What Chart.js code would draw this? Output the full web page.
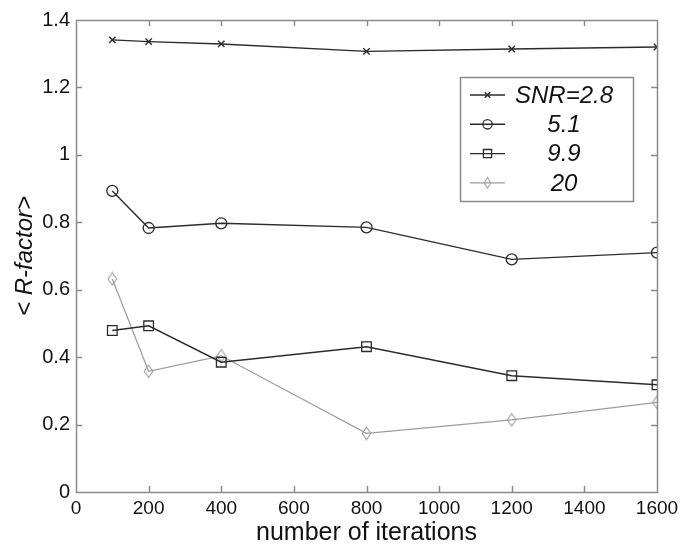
<!DOCTYPE html>
<html>
<head>
<meta charset="utf-8">
<script src="https://cdn.jsdelivr.net/npm/chart.js@4/dist/chart.umd.min.js"></script>
<style>
  html, body { margin: 0; padding: 0; background: #fff; }
  #wrap { width: 680px; height: 547px; }
</style>
</head>
<body>
<div id="wrap"><canvas id="chart" width="680" height="547"></canvas></div>
<script>
// Mean R-factor versus number of iterations, one series per SNR level
const iterations = [100, 200, 400, 800, 1200, 1600];
const seriesLabels = ['SNR=2.8', '5.1', '9.9', '20'];
const rSnr28 = [1.341, 1.336, 1.329, 1.307, 1.314, 1.320];
const rSnr51 = [0.893, 0.783, 0.797, 0.785, 0.690, 0.710];
const rSnr99 = [0.479, 0.493, 0.385, 0.431, 0.345, 0.318];
const rSnr20 = [0.632, 0.358, 0.404, 0.174, 0.214, 0.266];

const xTicks = [0, 200, 400, 600, 800, 1000, 1200, 1400, 1600];
const xTickLabels = ['0', '200', '400', '600', '800', '1000', '1200', '1400', '1600'];
const yTicks = [0, 0.2, 0.4, 0.6, 0.8, 1.0, 1.2, 1.4];
const yTickLabels = ['0', '0.2', '0.4', '0.6', '0.8', '1', '1.2', '1.4'];

const DARK = '#2b2b2b';
const LIGHT = '#9c9c9c';
const FRAME = '#8a8a8a';
const FONT = '"Liberation Sans", Arial, Helvetica, sans-serif';

// Tall, hollow diamond marker
function diamondMarker(color, w, h) {
  const c = document.createElement('canvas');
  c.width = w; c.height = h;
  const g = c.getContext('2d');
  g.strokeStyle = color;
  g.lineWidth = 1.1;
  g.beginPath();
  g.moveTo(w / 2, 1.2);
  g.lineTo(w - 1.2, h / 2);
  g.lineTo(w / 2, h - 1.2);
  g.lineTo(1.2, h / 2);
  g.closePath();
  g.stroke();
  return c;
}

function toPoints(ys) {
  return iterations.map((x, i) => ({ x: x, y: ys[i] }));
}

const datasets = [
  { label: seriesLabels[0], data: toPoints(rSnr28), borderColor: DARK, borderWidth: 1.4,
    pointStyle: 'crossRot', pointRadius: 4.5, pointBorderWidth: 1.4, pointBorderColor: DARK },
  { label: seriesLabels[1], data: toPoints(rSnr51), borderColor: DARK, borderWidth: 1.4,
    pointStyle: 'circle', pointRadius: 5.5, pointBorderWidth: 1.3, pointBorderColor: DARK },
  { label: seriesLabels[2], data: toPoints(rSnr99), borderColor: DARK, borderWidth: 1.4,
    pointStyle: 'rect', pointRadius: 6.8, pointBorderWidth: 1.3, pointBorderColor: DARK },
  { label: seriesLabels[3], data: toPoints(rSnr20), borderColor: LIGHT, borderWidth: 1.2,
    pointStyle: diamondMarker(LIGHT, 11, 15), pointRadius: 6, pointBorderWidth: 1.1, pointBorderColor: LIGHT,
    legendPointStyle: diamondMarker(LIGHT, 9, 13) }
].map(d => Object.assign(d, {
  showLine: true,
  fill: false,
  tension: 0,
  pointBackgroundColor: 'rgba(0,0,0,0)',
  pointHoverRadius: d.pointRadius
}));

// Box frame with inward tick marks on all four sides
const framePlugin = {
  id: 'frameTicks',
  afterDatasetsDraw(chart, args, opts) {
    const { ctx, chartArea: a, scales } = chart;
    const len = opts.tickLength;
    ctx.save();
    ctx.strokeStyle = opts.color;
    ctx.lineWidth = opts.lineWidth;
    ctx.beginPath();
    scales.x.ticks.forEach(t => {
      const px = Math.round(scales.x.getPixelForValue(t.value)) + 0.5;
      if (px <= a.left + 1 || px >= a.right - 1) return;
      ctx.moveTo(px, a.bottom); ctx.lineTo(px, a.bottom - len);
      ctx.moveTo(px, a.top); ctx.lineTo(px, a.top + len);
    });
    scales.y.ticks.forEach(t => {
      const py = Math.round(scales.y.getPixelForValue(t.value)) + 0.5;
      if (py <= a.top + 1 || py >= a.bottom - 1) return;
      ctx.moveTo(a.left, py); ctx.lineTo(a.left + len, py);
      ctx.moveTo(a.right, py); ctx.lineTo(a.right - len, py);
    });
    ctx.stroke();
    ctx.strokeRect(Math.round(a.left) + 0.5, Math.round(a.top) + 0.5,
                   Math.round(a.right - a.left), Math.round(a.bottom - a.top));
    ctx.restore();
  }
};

// Boxed legend drawn inside the plot area
const boxLegendPlugin = {
  id: 'boxLegend',
  afterDraw(chart, args, o) {
    const { ctx } = chart;
    ctx.save();
    ctx.fillStyle = '#fff';
    ctx.fillRect(o.left, o.top, o.width, o.height);
    ctx.strokeStyle = o.borderColor;
    ctx.lineWidth = 1.5;
    ctx.strokeRect(o.left + 0.5, o.top + 0.5, o.width, o.height);
    chart.data.datasets.forEach((ds, i) => {
      const y = o.firstRow + i * o.rowGap;
      ctx.strokeStyle = ds.borderColor;
      ctx.lineWidth = ds.borderWidth;
      ctx.beginPath();
      ctx.moveTo(o.lineX0, y); ctx.lineTo(o.lineX1, y);
      ctx.stroke();
      ctx.fillStyle = 'rgba(0,0,0,0)';
      ctx.strokeStyle = ds.pointBorderColor;
      ctx.lineWidth = ds.pointBorderWidth;
      Chart.helpers.drawPoint(ctx, {
        pointStyle: ds.legendPointStyle || ds.pointStyle,
        radius: ds.pointRadius * 0.85,
        borderWidth: ds.pointBorderWidth,
        rotation: 0
      }, (o.lineX0 + o.lineX1) / 2, y);
      ctx.fillStyle = '#111';
      ctx.font = o.font;
      ctx.textAlign = 'center';
      ctx.textBaseline = 'middle';
      ctx.fillText(ds.label, o.textX, y + 1);
    });
    ctx.restore();
  }
};

new Chart(document.getElementById('chart'), {
  type: 'scatter',
  data: { datasets: datasets },
  plugins: [framePlugin, boxLegendPlugin],
  options: {
    responsive: false,
    animation: false,
    devicePixelRatio: 1,
    layout: { padding: { top: 20, right: 23, bottom: 0, left: 0 } },
    plugins: {
      legend: { display: false },
      tooltip: { enabled: false },
      frameTicks: { color: FRAME, lineWidth: 1.5, tickLength: 6 },
      boxLegend: {
        left: 460, top: 77, width: 173, height: 124,
        firstRow: 95, rowGap: 29.3,
        lineX0: 470, lineX1: 505, textX: 564,
        font: 'italic 24px ' + FONT,
        borderColor: FRAME
      }
    },
    scales: {
      x: {
        type: 'linear',
        position: 'bottom',
        min: 0, max: 1600,
        grid: { display: false, drawTicks: false },
        border: { display: false },
        afterBuildTicks: s => { s.ticks = xTicks.map(v => ({ value: v })); },
        afterFit: s => { s.height = 55; s.paddingLeft = 0; s.paddingRight = 0; },
        ticks: {
          autoSkip: false, maxRotation: 0, padding: 5,
          color: '#111',
          font: { family: FONT, size: 19 },
          callback: v => xTickLabels[xTicks.indexOf(v)]
        },
        title: {
          display: true,
          text: 'number of iterations',
          color: '#111',
          font: { family: FONT, size: 25, lineHeight: 1.1 },
          padding: { top: 0, bottom: 0 }
        }
      },
      y: {
        type: 'linear',
        position: 'left',
        min: 0, max: 1.4,
        grid: { display: false, drawTicks: false },
        border: { display: false },
        afterBuildTicks: s => { s.ticks = yTicks.map(v => ({ value: v })); },
        afterFit: s => { s.width = 76; s.paddingTop = 0; s.paddingBottom = 0; },
        ticks: {
          padding: 6,
          color: '#111',
          font: { family: FONT, size: 20 },
          callback: v => yTickLabels[yTicks.indexOf(v)]
        },
        title: {
          display: true,
          text: '< R-factor>',
          color: '#111',
          font: { family: FONT, size: 24, style: 'italic' },
          padding: { top: 11, bottom: 0 }
        }
      }
    }
  }
});
</script>
</body>
</html>
